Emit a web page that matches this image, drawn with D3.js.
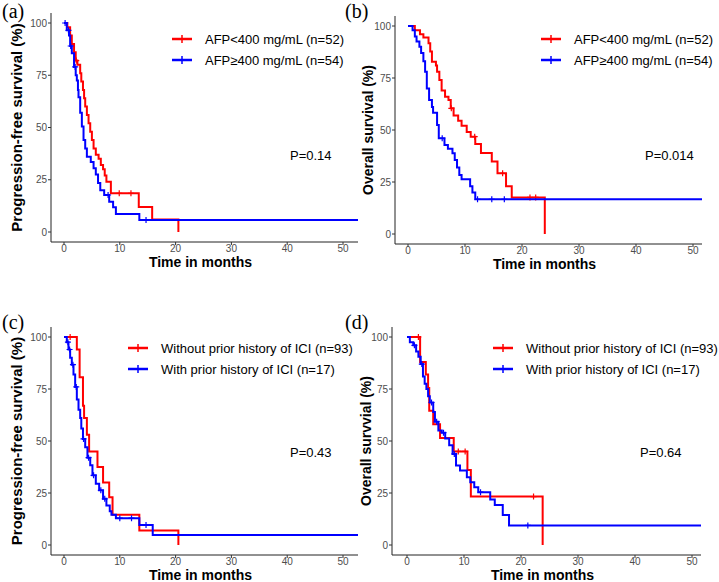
<!DOCTYPE html>
<html><head><meta charset="utf-8">
<script src="https://cdn.jsdelivr.net/npm/d3@7"></script>
<style>body{margin:0;background:#fff}svg{display:block}</style>
</head><body>
<svg id="chart" width="719" height="582"></svg>
<script>
// ---------- data ----------
const xTicks = [0, 10, 20, 30, 40, 50];
const yTicks = [0, 25, 50, 75, 100];
const panelLabels = ["(a)", "(b)", "(c)", "(d)"];
const yTitles = ["Progression-free survival (%)", "Overall survival (%)", "Progression-free survival (%)", "Overall survvial (%)"];
const xTitle = "Time in months";
const legendAFP = ["AFP<400 mg/mL (n=52)", "AFP\u2265400 mg/mL (n=54)"];
const legendICI = ["Without prior history of ICI (n=93)", "With prior history of ICI (n=17)"];
const pValues = ["P=0.14", "P=0.014", "P=0.43", "P=0.64"];

// (a) PFS by AFP
const aRed = [[0,100],[0.6,98],[1.1,94],[1.4,90],[1.8,86],[2.1,82],[2.4,80],[2.9,76],[3.1,72],[3.4,68],[3.6,64],[3.8,60],[4.1,56],[4.4,52],[4.7,48],[5.0,44],[5.3,40],[5.7,37],[6.2,35],[6.6,32],[7.0,30],[7.3,27],[7.6,24],[8.4,18.5],[13.4,12],[15.8,6],[20.5,0]];
const aRedCens = [2.2, 9.9, 12.0];
const aBlue = [[0,100],[0.5,96.5],[0.9,94],[1.1,89],[1.4,85.5],[1.8,79],[2.1,75],[2.3,72.5],[2.5,68],[2.6,64.5],[2.9,57],[3.2,50.5],[3.5,44],[3.8,40],[4.1,36],[4.8,33.5],[5.3,30.5],[5.7,27.5],[6.1,23.5],[6.5,20],[7.2,17.7],[8.1,14.5],[8.8,11.8],[9.3,8.6],[13.5,5.7],[60,5.7]];
const aBlueCens = [0.2, 0.8, 1.2, 2.0, 7.9, 14.7];

// (b) OS by AFP
const bRed = [[0,100],[1.2,98],[2.1,96],[2.7,94.5],[3.6,91.7],[3.9,87.7],[4.2,82.8],[4.9,81],[5.1,78],[5.5,74],[5.9,69],[6.5,66],[7.1,64.4],[7.5,60.4],[8.0,57],[8.8,54.5],[9.4,52],[10.3,49],[11.0,46.8],[11.8,43.3],[12.8,39],[14.7,34.8],[15.7,29.2],[17.2,23],[18.2,17.6],[24.0,0]];
const bRedCens = [7.6, 11.7, 16.6, 21.4, 22.4];
const bBlue = [[0,100],[0.8,98],[1.2,95],[1.5,92.5],[2.0,90],[2.3,87],[2.7,83],[3.0,78],[3.3,70],[3.7,64.4],[4.2,61],[4.4,58.3],[5.1,52.4],[5.4,46],[6.4,42.8],[7.0,41],[7.8,38.8],[8.2,35.6],[8.6,32],[9.0,28.4],[9.4,26.3],[10.9,23],[11.3,20],[11.8,16.7],[60,16.7]];
const bBlueCens = [6.0, 12.2, 14.7, 16.9];

// (c) PFS by prior ICI
const cRed = [[0,100],[2.3,94],[2.8,80.7],[3.4,67],[3.6,61],[4.1,53],[4.5,45],[6.0,37.5],[7.0,30],[8.1,23],[8.7,14.5],[13.5,7],[20.5,0]];
const cRedCens = [1.1];
const cBlue = [[0,100],[0.5,97.5],[0.8,94],[1.1,90],[1.4,86.7],[1.7,82],[2.0,76],[2.3,70],[2.6,65],[2.9,61],[3.1,56],[3.4,51],[3.8,47],[4.2,42],[4.7,38.3],[5.1,33.5],[5.7,29.5],[6.3,26.3],[7.0,22.2],[7.6,19],[8.2,16.2],[8.5,14.5],[9.3,12.9],[13.5,9.6],[15.9,4.8],[60,4.8]];
const cBlueCens = [0.7, 1.0, 1.6, 2.2, 3.5, 4.4, 5.3, 6.6, 7.3, 10.0, 12.1, 14.7];

// (d) OS by prior ICI
const dRed = [[0,100],[2.3,88],[3.3,82],[3.7,75.5],[3.9,64.6],[4.6,58],[5.8,51.5],[8.2,45],[10.6,36],[11.2,23.3],[23.8,0]];
const dRedCens = [2.0, 9.0, 10.2, 22.2];
const dBlue = [[0,100],[0.5,97.5],[1.1,96],[1.6,93],[2.0,90.5],[2.4,87],[2.8,81],[3.1,77.5],[3.4,75],[3.7,71.5],[4.0,68.5],[4.6,64],[4.9,59.3],[5.5,55],[6.1,54],[6.7,51.2],[7.4,48],[8.0,43.8],[8.6,38.2],[9.3,35.8],[10.5,32.6],[11.1,30.2],[11.8,27.8],[12.5,25.4],[14.6,21.9],[15.4,19.2],[16.8,14.4],[17.9,9.4],[60,9.4]];
const dBlueCens = [1.3, 2.6, 4.3, 5.2, 6.4, 8.3, 12.9, 21.2];

const colors = ["#FF0000", "#0000FF"];

// ---------- layout (geometry only) ----------
const panels = [
  {label:0, left:51, x0:64, x50:343, right:358, y0:232, y100:23, bottom:242, top:13, titleX:22, titleSize:15, labX:2, labY:18,
   curves:[[aRed,aRedCens],[aBlue,aBlueCens]], legend:legendAFP, legX:172, legY:[39,60], pX:290, pY:160},
  {label:1, left:395, x0:408, x50:693, right:702, y0:234, y100:26, bottom:244, top:16, titleX:373, titleSize:14, labX:345, labY:18,
   curves:[[bRed,bRedCens],[bBlue,bBlueCens]], legend:legendAFP, legX:541, legY:[39,60], pX:645, pY:160},
  {label:2, left:51, x0:64, x50:343, right:358, y0:545, y100:337, bottom:555, top:327, titleX:22, titleSize:15, labX:2, labY:329,
   curves:[[cRed,cRedCens],[cBlue,cBlueCens]], legend:legendICI, legX:128, legY:[348,369], pX:290, pY:457},
  {label:3, left:392, x0:407, x50:692, right:701, y0:545, y100:337, bottom:555, top:327, titleX:371, titleSize:14, labX:345, labY:329,
   curves:[[dRed,dRedCens],[dBlue,dBlueCens]], legend:legendICI, legX:493, legY:[348,369], pX:640, pY:457}
];

const svg = d3.select("#chart");
const sans = "'Liberation Sans', Arial, Helvetica, sans-serif";

function stepValue(curve, t) {
  let v = curve[0][1];
  for (const p of curve) { if (p[0] <= t) v = p[1]; }
  return v;
}

panels.forEach((P, i) => {
  const g = svg.append("g");
  const x = d3.scaleLinear().domain([0, 50]).range([P.x0, P.x50]);
  const y = d3.scaleLinear().domain([0, 100]).range([P.y0, P.y100]);

  const clipId = "clip" + i;
  svg.append("clipPath").attr("id", clipId).append("rect")
    .attr("x", P.left).attr("y", P.top - 5).attr("width", P.right - P.left).attr("height", P.bottom - P.top + 10);

  // curves
  const line = d3.line().x(d => x(d[0])).y(d => y(d[1])).curve(d3.curveStepAfter);
  const cg = g.append("g").attr("clip-path", `url(#${clipId})`);
  P.curves.forEach((c, k) => {
    cg.append("path").datum(c[0]).attr("d", line)
      .attr("fill", "none").attr("stroke", colors[k]).attr("stroke-width", 2);
    cg.selectAll(null).data(c[1]).enter().append("path")
      .attr("d", t => {
        const cx = x(t), cy = y(stepValue(c[0], t));
        return `M${cx-3},${cy}H${cx+3}M${cx},${cy-3}V${cy+3}`;
      })
      .attr("stroke", colors[k]).attr("stroke-width", 1.2).attr("fill", "none");
  });

  // axes lines
  g.append("line").attr("x1", P.left).attr("x2", P.left).attr("y1", P.top).attr("y2", P.bottom)
    .attr("stroke", "#222").attr("stroke-width", 1);
  g.append("line").attr("x1", P.left).attr("x2", P.right).attr("y1", P.bottom).attr("y2", P.bottom)
    .attr("stroke", "#222").attr("stroke-width", 1);

  // y ticks
  yTicks.forEach(v => {
    g.append("line").attr("x1", P.left - 3).attr("x2", P.left).attr("y1", y(v)).attr("y2", y(v))
      .attr("stroke", "#333").attr("stroke-width", 1);
    g.append("text").attr("x", P.left - 4).attr("y", y(v)).attr("dy", "0.35em")
      .attr("text-anchor", "end").attr("font-family", sans).attr("font-size", 10)
      .attr("fill", "#4D4D4D").text(v);
  });
  // x ticks
  xTicks.forEach(v => {
    g.append("line").attr("x1", x(v)).attr("x2", x(v)).attr("y1", P.bottom).attr("y2", P.bottom + 3)
      .attr("stroke", "#333").attr("stroke-width", 1);
    g.append("text").attr("x", x(v)).attr("y", P.bottom + 10)
      .attr("text-anchor", "middle").attr("font-family", sans).attr("font-size", 10)
      .attr("fill", "#4D4D4D").text(v);
  });

  // titles
  g.append("text").attr("x", (P.left + P.right) / 2 - 4).attr("y", P.bottom + 25)
    .attr("text-anchor", "middle").attr("font-family", sans).attr("font-size", 14)
    .attr("font-weight", "bold").attr("fill", "#000").text(xTitle);
  const cy = (P.top + P.bottom) / 2;
  g.append("text").attr("transform", `translate(${P.titleX},${cy}) rotate(-90)`)
    .attr("text-anchor", "middle").attr("font-family", sans).attr("font-size", P.titleSize)
    .attr("font-weight", "bold").attr("fill", "#000").text(yTitles[i]);

  // panel label
  g.append("text").attr("x", P.labX).attr("y", P.labY)
    .attr("font-family", "'Liberation Serif', 'Times New Roman', serif").attr("font-size", 20)
    .attr("fill", "#000").text(panelLabels[P.label]);

  // legend
  P.legend.forEach((txt, k) => {
    const ly = P.legY[k];
    g.append("line").attr("x1", P.legX).attr("x2", P.legX + 20).attr("y1", ly).attr("y2", ly)
      .attr("stroke", colors[k]).attr("stroke-width", 2.5);
    g.append("line").attr("x1", P.legX + 10).attr("x2", P.legX + 10).attr("y1", ly - 4).attr("y2", ly + 4)
      .attr("stroke", colors[k]).attr("stroke-width", 1.5);
    g.append("text").attr("x", P.legX + 33).attr("y", ly).attr("dy", "0.35em")
      .attr("font-family", sans).attr("font-size", 13).attr("fill", "#000").text(txt);
  });

  // p value
  g.append("text").attr("x", P.pX).attr("y", P.pY)
    .attr("font-family", sans).attr("font-size", 13).attr("fill", "#000").text(pValues[i]);
});
</script>
</body></html>
